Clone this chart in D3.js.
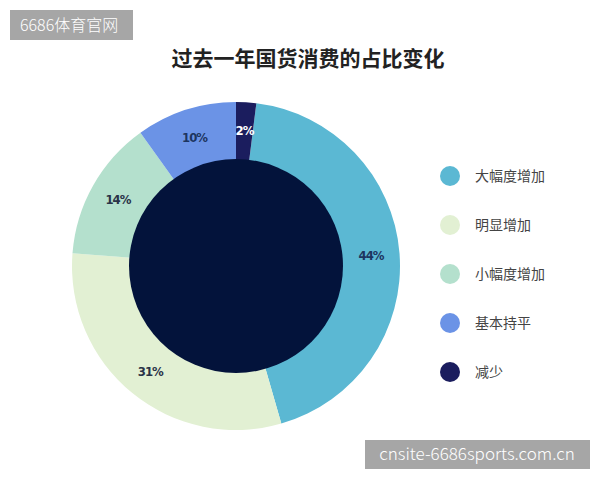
<!DOCTYPE html>
<html>
<head>
<meta charset="utf-8">
<script src="https://cdn.jsdelivr.net/npm/d3@7"></script>
<style>
  body { margin: 0; background: #fff; }
  svg { display: block; font-family: "Noto Sans CJK SC", "Noto Sans", sans-serif; }
</style>
</head>
<body>
<div id="chart"></div>
<script>
// data, legend order
const categories = ["大幅度增加", "明显增加", "小幅度增加", "基本持平", "减少"];
const values = [44, 31, 14, 10, 2];
const colors = ["#5bb8d3", "#e2f0d3", "#b4e0cd", "#6b93e6", "#1b1d5e"];
const labelColors = ["#1d3560", "#2a3348", "#2a3348", "#1d3560", "#ffffff"];

const w = 600, h = 480;
const cx = 236, cy = 266;
const outerR = 164, innerR = 107;

const svg = d3.select("#chart").append("svg")
    .attr("width", w)
    .attr("height", h);

// title
svg.append("text")
    .attr("x", 308)
    .attr("y", 66)
    .attr("text-anchor", "middle")
    .style("font-size", "21px")
    .style("font-weight", "bold")
    .style("fill", "#222")
    .text("过去一年国货消费的占比变化");

// 减少 sits at 12 o'clock, so start the rest after it
const total = d3.sum(values);
const offset = values[4] / total * 2 * Math.PI;

const pie = d3.pie()
    .sort(null)
    .startAngle(offset)
    .endAngle(offset + 2 * Math.PI);

const arcs = pie(values);
const arc = d3.arc().innerRadius(innerR - 2).outerRadius(outerR);
const labelArc = d3.arc().innerRadius((innerR + outerR) / 2).outerRadius((innerR + outerR) / 2);

const g = svg.append("g").attr("transform", `translate(${cx},${cy})`);

g.selectAll("path")
    .data(arcs)
    .enter()
    .append("path")
    .attr("d", arc)
    .attr("fill", (d, i) => colors[i]);

// dark centre
g.append("circle")
    .attr("r", innerR)
    .attr("fill", "#03133b");

g.selectAll("text.lbl")
    .data(arcs)
    .enter()
    .append("text")
    .attr("class", "lbl")
    .attr("transform", d => `translate(${labelArc.centroid(d)})`)
    .attr("dy", "0.35em")
    .attr("text-anchor", "middle")
    .style("font-family", '"DejaVu Sans Condensed", "DejaVu Sans", sans-serif')
    .style("font-stretch", "condensed")
    .style("font-weight", "bold")
    .style("letter-spacing", "-1px")
    .style("font-size", "13px")
    .style("fill", (d, i) => labelColors[i])
    .text(d => d.data + "%");

// legend
const legend = svg.append("g");
const ly = d3.scalePoint().domain(categories).range([176, 372]);

legend.selectAll("circle")
    .data(categories)
    .enter()
    .append("circle")
    .attr("cx", 450)
    .attr("cy", d => ly(d))
    .attr("r", 10)
    .attr("fill", (d, i) => colors[i]);

legend.selectAll("text")
    .data(categories)
    .enter()
    .append("text")
    .attr("x", 475)
    .attr("y", d => ly(d))
    .attr("dy", "0.35em")
    .style("font-size", "14px")
    .style("fill", "#444")
    .text(d => d);

// watermarks
svg.append("rect").attr("x", 10).attr("y", 10).attr("width", 123).attr("height", 30).attr("fill", "#a6a6a6");
svg.append("text").attr("x", 20).attr("y", 31)
    .style("font-size", "16px").style("font-weight", "300").style("fill", "#fff")
    .text("6686体育官网");

svg.append("rect").attr("x", 365).attr("y", 440).attr("width", 225).attr("height", 29).attr("fill", "#a6a6a6");
svg.append("text").attr("x", 477).attr("y", 460)
    .attr("text-anchor", "middle")
    .style("font-size", "17px").style("font-weight", "300").style("fill", "#fff")
    .text("cnsite-6686sports.com.cn");
</script>
</body>
</html>
